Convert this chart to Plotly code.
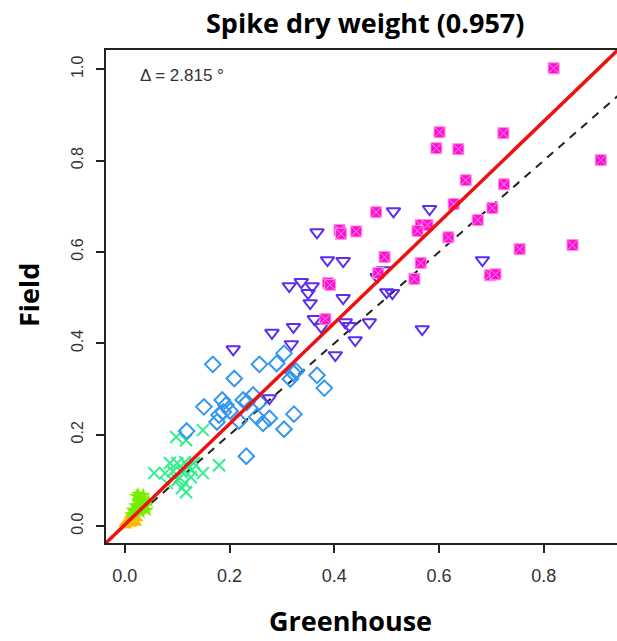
import plotly.graph_objects as go

# ---- data ----
orange_x = [0.000, 0.005, 0.010, 0.015, 0.020, 0.012, 0.008, 0.018, 0.025, 0.003, -0.002, 0.022]
orange_y = [0.005, 0.010, 0.015, 0.020, 0.010, 0.004, 0.022, 0.026, 0.016, 0.000, 0.004, 0.006]

lime_x = [0.015, 0.020, 0.025, 0.030, 0.035, 0.040, 0.028, 0.018, 0.030, 0.042, 0.022, 0.035, 0.012, 0.045, 0.025]
lime_y = [0.035, 0.045, 0.055, 0.060, 0.050, 0.045, 0.040, 0.030, 0.030, 0.035, 0.065, 0.068, 0.025, 0.055, 0.070]

greenx_x = [0.098, 0.117, 0.149, 0.086, 0.100, 0.115, 0.056, 0.077, 0.092, 0.109, 0.128, 0.132, 0.149, 0.180,
            0.080, 0.101, 0.115, 0.109, 0.117, 0.126, 0.121]
greenx_y = [0.195, 0.188, 0.210, 0.138, 0.138, 0.140, 0.116, 0.116, 0.120, 0.118, 0.123, 0.138, 0.116, 0.133,
            0.094, 0.101, 0.094, 0.083, 0.074, 0.107, 0.129]

blue_x = [0.168, 0.257, 0.290, 0.304, 0.209, 0.322, 0.327, 0.316, 0.367, 0.381, 0.151, 0.186, 0.193, 0.201,
          0.188, 0.180, 0.176, 0.226, 0.233, 0.245, 0.257, 0.218, 0.252, 0.264, 0.276, 0.323, 0.304, 0.232, 0.118]
blue_y = [0.354, 0.354, 0.356, 0.378, 0.323, 0.335, 0.339, 0.322, 0.330, 0.302, 0.261, 0.276, 0.265, 0.252,
          0.250, 0.243, 0.228, 0.276, 0.271, 0.287, 0.271, 0.230, 0.239, 0.225, 0.236, 0.245, 0.212, 0.153, 0.208]

violet_x = [0.513, 0.367, 0.387, 0.417, 0.314, 0.337, 0.358, 0.350, 0.354, 0.417, 0.494, 0.482, 0.500, 0.511,
            0.362, 0.375, 0.421, 0.429, 0.467, 0.440, 0.322, 0.281, 0.318, 0.207, 0.402, 0.582, 0.683, 0.568, 0.276]
violet_y = [0.689, 0.643, 0.582, 0.580, 0.525, 0.534, 0.525, 0.510, 0.488, 0.499, 0.560, 0.545, 0.512, 0.510,
            0.453, 0.436, 0.446, 0.438, 0.446, 0.407, 0.436, 0.423, 0.398, 0.387, 0.374, 0.694, 0.582, 0.431, 0.280]

magenta_x = [0.601, 0.723, 0.595, 0.637, 0.909, 0.651, 0.724, 0.480, 0.628, 0.702, 0.674, 0.565, 0.578, 0.559,
             0.618, 0.754, 0.855, 0.496, 0.565, 0.697, 0.708, 0.553, 0.484, 0.819, 0.410, 0.413, 0.442,
             0.388, 0.392, 0.383]
magenta_y = [0.862, 0.860, 0.827, 0.825, 0.801, 0.757, 0.748, 0.687, 0.705, 0.696, 0.670, 0.659, 0.659, 0.646,
             0.632, 0.606, 0.615, 0.589, 0.576, 0.549, 0.551, 0.541, 0.554, 1.002, 0.648, 0.640, 0.645,
             0.532, 0.528, 0.453]

fit_slope = 1.1035
fit_intercept = 0.003
line_x = [-0.1, 1.1]

x_ticks = [0.0, 0.2, 0.4, 0.6, 0.8]
x_tick_labels = ["0.0", "0.2", "0.4", "0.6", "0.8"]
y_ticks = [0.0, 0.2, 0.4, 0.6, 0.8, 1.0]
y_tick_labels = ["0.0", "0.2", "0.4", "0.6", "0.8", "1.0"]

fig = go.Figure()

fig.add_trace(go.Scatter(x=line_x, y=line_x, mode="lines",
                         line=dict(color="#222222", width=2, dash="8px,7px"), hoverinfo="skip"))

fig.add_trace(go.Scatter(x=orange_x, y=orange_y, mode="markers",
                         marker=dict(symbol="triangle-up", size=10, color="#ffbb00",
                                     line=dict(width=0))))
fig.add_trace(go.Scatter(x=lime_x, y=lime_y, mode="markers",
                         marker=dict(symbol="star", size=11, color="#77ee00",
                                     line=dict(width=0))))
fig.add_trace(go.Scatter(x=greenx_x, y=greenx_y, mode="markers",
                         marker=dict(symbol="x-thin-open", size=12, color="#33ee8f",
                                     line=dict(color="#33ee8f", width=2))))
fig.add_trace(go.Scatter(x=blue_x, y=blue_y, mode="markers",
                         marker=dict(symbol="diamond-open", size=12, color="#3597ee",
                                     line=dict(color="#3597ee", width=2))))
fig.add_trace(go.Scatter(x=violet_x, y=violet_y, mode="markers",
                         marker=dict(symbol="triangle-down-open", size=12, color="#5c2ef0",
                                     line=dict(color="#5c2ef0", width=2))))
fig.add_trace(go.Scatter(x=magenta_x, y=magenta_y, mode="markers",
                         marker=dict(symbol="square-x", size=11, color="#ff10d0",
                                     line=dict(color="#ff8fe8", width=1))))

fig.add_trace(go.Scatter(x=line_x, y=[fit_slope * v + fit_intercept for v in line_x], mode="lines",
                         line=dict(color="#ee1111", width=3.5), hoverinfo="skip"))

axis_common = dict(showgrid=False, zeroline=False, showline=True, linecolor="#222222", linewidth=2,
                   ticks="outside", ticklen=8, tickwidth=1.5, tickcolor="#222222")

bold_font = "Open Sans, Lato"

fig.update_layout(
    width=617, height=641,
    margin=dict(l=106, r=0, t=50, b=98),
    paper_bgcolor="white", plot_bgcolor="white",
    showlegend=False,
    xaxis=dict(range=[-0.036, 0.94], tickvals=x_ticks, ticktext=x_tick_labels, mirror=True,
               ticklabelstandoff=7,
               tickfont=dict(family="Liberation Sans, Arial", size=18, color="#333333"),
               **axis_common),
    yaxis=dict(range=[-0.037, 1.042], tickvals=y_ticks, ticktext=y_tick_labels, tickangle=-90,
               ticklabelstandoff=7,
               tickfont=dict(family="Liberation Sans, Arial", size=16, color="#333333"),
               **axis_common),
    annotations=[
        dict(text="\u0394 = 2.815 \u00b0", xref="paper", yref="paper", x=0.063, y=0.949,
             xanchor="left", yanchor="middle", showarrow=False,
             font=dict(family="Liberation Sans, Arial", size=17, color="#333333")),
        dict(text="<b>Spike dry weight (0.957)</b>", xref="paper", yref="paper",
             x=(365 - 106) / 511, y=(543 - 22) / 493, xanchor="center", yanchor="middle",
             showarrow=False, font=dict(family=bold_font, size=27, color="black")),
        dict(text="<b>Greenhouse</b>", xref="paper", yref="paper",
             x=(350 - 106) / 511, y=(543 - 620) / 493, xanchor="center", yanchor="middle",
             showarrow=False, font=dict(family=bold_font, size=27, color="black")),
        dict(text="<b>Field</b>", xref="paper", yref="paper", textangle=-90,
             x=(28 - 106) / 511, y=(543 - 295) / 493, xanchor="center", yanchor="middle",
             showarrow=False, font=dict(family=bold_font, size=27, color="black")),
    ],
)

fig.write_html("out.html")
